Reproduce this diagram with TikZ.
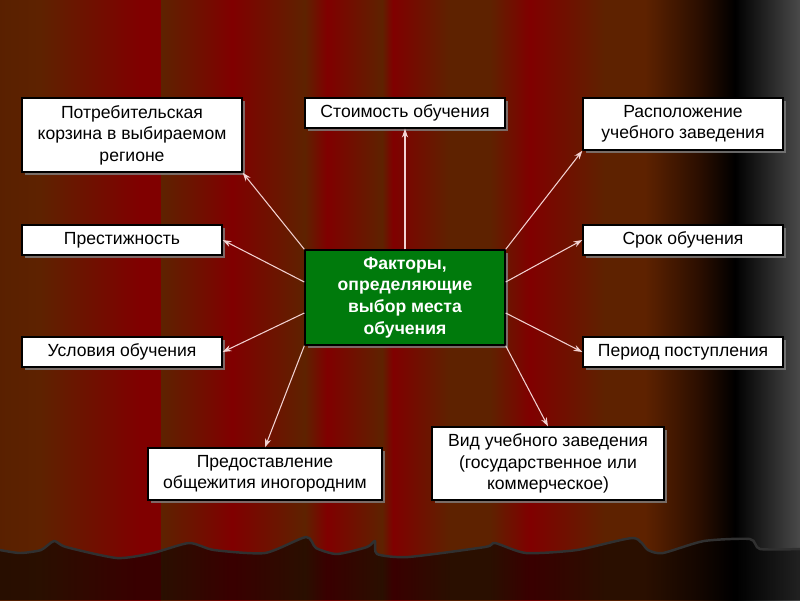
\documentclass[tikz,border=0pt]{standalone}
\usepackage{fontspec}
\setmainfont{Liberation Sans}
\usetikzlibrary{arrows.meta,shadows}

\definecolor{curbrown}{HTML}{5E2200}
\definecolor{curred}{HTML}{800000}
\definecolor{curdark}{HTML}{2A0E00}
\definecolor{curgray}{HTML}{4A4A4A}
\definecolor{coregreen}{HTML}{007A0C}
\definecolor{linkpink}{HTML}{F2D2D2}
\definecolor{hemgray}{HTML}{303030}

\begin{document}
\begin{tikzpicture}[x=0.02cm,y=-0.02cm]
    \tikzset{
        factor/.style={draw=black, fill=white, line width=0.8pt, align=center,
            inner sep=2pt, font=\fontsize{10}{12.2}\selectfont,
            drop shadow={shadow xshift=1.5pt, shadow yshift=-1.5pt, opacity=.8}},
        core/.style={factor, fill=coregreen, text=white,
            font=\fontsize{10}{12.3}\selectfont\bfseries},
        link/.style={draw=linkpink, line width=0.6pt, -{Stealth[length=5pt,width=3.5pt]}},
        hem/.style={draw=hemgray, line width=1.4pt, line join=round}
    }

    \useasboundingbox (0,0) rectangle (800,600);

    % curtain
    \foreach \xa/\ca/\xb/\cb in {%
        0/curbrown!95!black/40/curbrown,40/curbrown/140/curred,140/curred/161/curred,
        161/curbrown/232/curred,232/curred/305/curbrown,305/curbrown/327/curred,
        327/curred/382/curbrown,382/curbrown/393/curred,393/curred/450/curbrown,
        450/curbrown/490/curbrown,490/curbrown/530/curred,530/curred/605/curbrown,
        605/curbrown/645/curbrown,645/curbrown/700/curdark,700/curdark/735/black,
        735/black/800/curgray%
    }{
        \shade[left color=\ca, right color=\cb] (\xa,0) rectangle (\xb,600);
    }

    \fill[black, opacity=.55] plot[smooth, tension=.4] coordinates {%
        (0,550) (20,553) (41,550) (54,541) (66,547) (117,558) (153,553) (189,543)
        (214,550) (265,553) (306,537) (316,548) (337,554) (367,547) (375,541)
        (377,554) (408,557) (485,547) (495,543) (526,553) (577,550) (633,538)
        (648,550) (663,553) (704,541) (750,539) (760,549) (800,549)}
        -- (800,600) -- (0,600) -- cycle;
    \draw[hem] plot[smooth, tension=.4] coordinates {%
        (0,550) (20,553) (41,550) (54,541) (66,547) (117,558) (153,553) (189,543)
        (214,550) (265,553) (306,537) (316,548) (337,554) (367,547) (375,541)
        (377,554) (408,557) (485,547) (495,543) (526,553) (577,550) (633,538)
        (648,550) (663,553) (704,541) (750,539) (760,549) (800,549)};

    % boxes
    \node[core, minimum width=4cm, minimum height=1.9cm] (ctr) at (405,297.5)
        {Факторы,\\определяющие\\выбор места\\обучения};

    \node[factor, minimum width=4.4cm, minimum height=1.48cm] (potr) at (132,135)
        {Потребительская\\корзина в выбираемом\\регионе};
    \node[factor, minimum width=4cm, minimum height=0.6cm] (stoim) at (405,113)
        {Стоимость обучения};
    \node[factor, minimum width=4cm, minimum height=1.04cm] (rasp) at (683,124)
        {Расположение\\учебного заведения};
    \node[factor, minimum width=4cm, minimum height=0.6cm] (prest) at (122,240)
        {Престижность};
    \node[factor, minimum width=4cm, minimum height=0.6cm] (srok) at (683,240)
        {Срок обучения};
    \node[factor, minimum width=4cm, minimum height=0.6cm] (usl) at (122,352)
        {Условия обучения};
    \node[factor, minimum width=4cm, minimum height=0.6cm] (per) at (683,352)
        {Период поступления};
    \node[factor, minimum width=4.68cm, minimum height=1.04cm] (pred) at (265,474)
        {Предоставление\\общежития иногородним};
    \node[factor, minimum width=4.64cm, minimum height=1.46cm] (vid) at (548,463.5)
        {Вид учебного заведения\\(государственное или\\коммерческое)};

    % arrows
    \draw[link] (ctr.north) -- (stoim.south);
    \draw[link] (ctr.north west) -- (potr.south east);
    \draw[link] ([yshift=0.31cm]ctr.west) -- (prest.east);
    \draw[link] ([yshift=-0.31cm]ctr.west) -- (usl.east);
    \draw[link] (ctr.south west) -- (pred.north);
    \draw[link] (ctr.south east) -- (vid.north);
    \draw[link] ([yshift=-0.31cm]ctr.east) -- (per.west);
    \draw[link] ([yshift=0.31cm]ctr.east) -- (srok.west);
    \draw[link] (ctr.north east) -- (rasp.south west);
\end{tikzpicture}
\end{document}
